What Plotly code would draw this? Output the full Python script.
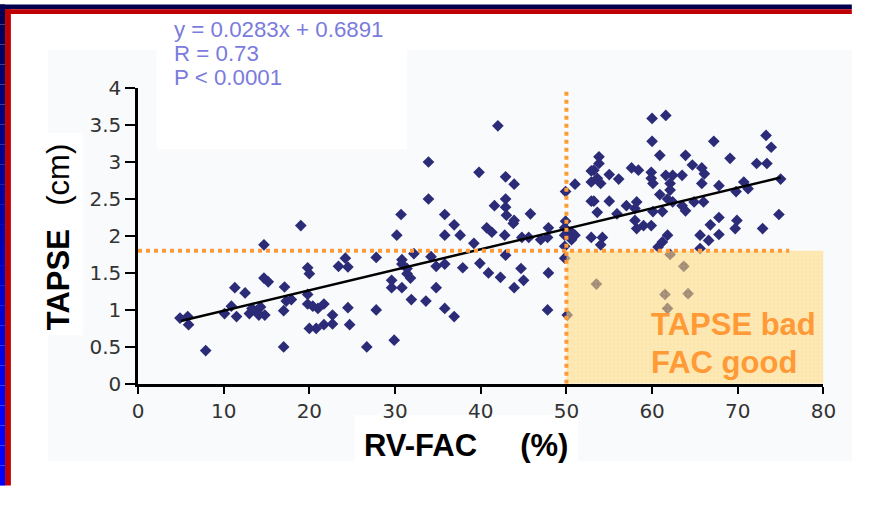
import plotly.graph_objects as go

# ---------------- data ----------------
fac = [
    19.0, 14.7, 4.9, 5.8, 5.9, 7.9, 10.1, 10.9, 11.5, 11.3, 12.5, 13.0, 13.3, 13.9, 14.3, 14.1, 14.8,
    14.7, 15.2, 17.0, 17.0, 17.1, 17.3, 17.9, 19.8, 20.0, 19.8, 19.8, 20.4, 21.0, 20.0, 20.8, 21.7,
    21.7, 22.7, 22.7, 23.4, 24.2, 24.5, 24.5, 24.7, 26.7,
    36.9, 40.7, 41.3, 43.8, 47.9, 30.2, 35.8, 37.6, 39.2, 42.8, 44.8, 45.6, 47.0, 47.8, 49.8, 49.8,
    51.0, 52.9, 49.8, 27.8, 32.2, 30.8, 30.8, 31.4, 34.2, 34.8, 35.8, 37.9, 39.9, 40.9, 42.9, 42.3,
    44.7, 45.0, 43.9, 47.9, 49.8, 29.6, 29.6, 30.8, 31.4, 31.8, 34.8, 31.9, 33.6, 27.8, 35.8, 36.9,
    47.8, 50.1, 29.9, 42.0, 33.9, 39.8, 42.9, 43.9, 33.9, 30.7, 35.8, 41.6, 42.9, 42.9, 43.0, 43.9,
    45.8, 49.9, 51.0, 49.9, 52.9, 52.9, 52.9, 50.6, 50.6,
    60.0, 61.6, 60.0, 60.9, 63.9, 64.7, 67.2, 69.1, 73.3, 73.9, 72.2, 73.4, 75.0, 74.8, 72.9, 69.9,
    69.7, 67.8, 66.8, 67.8, 65.6, 66.6, 53.8, 53.8, 53.2, 53.6, 54.0, 55.0, 56.1, 57.6, 58.4, 59.9,
    59.9, 60.1, 61.6, 62.4, 63.5, 62.1, 62.1, 65.8, 66.1, 65.8, 67.8, 69.8, 70.7, 71.2, 53.2, 55.0,
    55.9, 57.0, 58.2, 58.0, 58.0, 59.0, 59.9, 60.1, 61.2, 60.9, 61.8, 62.4, 63.5, 63.9, 64.9, 66.0,
    53.6, 54.2, 54.0, 61.2, 61.8, 60.7, 58.2, 65.6,
    62.1, 63.7, 53.5, 61.5, 64.2, 61.8,
]
tapse = [
    2.14, 1.88, 0.89, 0.91, 0.80, 0.45, 0.95, 1.05, 0.91, 1.30, 1.23, 0.95, 1.02, 0.99, 1.04, 0.93, 0.93,
    1.43, 1.38, 0.50, 0.99, 1.31, 1.12, 1.14, 1.57, 1.49, 1.21, 1.08, 1.05, 1.02, 0.75, 0.75, 0.80,
    1.08, 0.93, 0.81, 1.59, 1.70, 1.58, 1.03, 0.80, 0.50,
    2.15, 2.11, 2.05, 2.17, 2.11, 2.01, 2.01, 2.01, 1.90, 2.01, 1.98, 1.98, 1.95, 1.98, 2.11, 2.01,
    2.01, 1.98, 1.86, 1.71, 1.76, 1.68, 1.62, 1.56, 1.72, 1.59, 1.62, 1.57, 1.63, 1.50, 1.74, 1.44,
    1.56, 1.40, 1.30, 1.50, 1.70, 1.40, 1.30, 1.30, 1.49, 1.43, 1.30, 1.14, 1.12, 1.00, 1.02, 0.91,
    1.00, 0.93, 0.59, 3.49, 3.00, 2.86, 2.80, 2.70, 2.50, 2.29, 2.29, 2.41, 2.50, 2.39, 2.28, 2.21,
    2.30, 2.60, 2.70, 2.20, 2.88, 2.73, 2.47, 2.05, 1.95,
    3.59, 3.63, 3.28, 3.09, 3.09, 2.96, 3.28, 3.05, 3.36, 3.20, 2.98, 2.98, 2.77, 2.29, 2.10, 2.21,
    2.10, 2.25, 2.15, 2.02, 2.01, 1.94, 3.07, 2.98, 2.89, 2.78, 2.71, 2.83, 2.77, 2.92, 2.89, 2.86,
    2.78, 2.71, 2.82, 2.82, 2.82, 2.71, 2.62, 2.92, 2.84, 2.71, 2.68, 2.60, 2.73, 2.64, 2.47, 2.47,
    2.30, 2.41, 2.46, 2.37, 2.21, 2.14, 2.14, 2.33, 2.33, 2.56, 2.50, 2.46, 2.41, 2.34, 2.46, 2.46,
    2.32, 1.98, 1.88, 1.92, 2.01, 1.85, 2.10, 1.83,
    1.75, 1.59, 1.35, 1.21, 1.22, 1.02,
]

fit_x = [5, 75]
fit_y = [0.85, 2.79]

fac_cut = 50
tapse_cut = 1.8
hline_end = 76
x_max = 80

x_ticks = [0, 10, 20, 30, 40, 50, 60, 70, 80]
y_ticks = [0, 0.5, 1, 1.5, 2, 2.5, 3, 3.5, 4]
y_ticklabels = ["0", "0.5", "1", "1.5", "2", "2.5", "3", "3.5", "4"]

eq_lines = ["y = 0.0283x + 0.6891", "R = 0.73", "P < 0.0001"]
region_lines = ["TAPSE bad", "FAC good"]

# ---------------- layout helpers (page has an 8px body margin) ----------------
OX, OY = 8, 8
FW, FH = 873 - 16, 506 - 16
def px(x):
    return (x - OX) / FW
def py(y):
    return 1 - (y - OY) / FH

FONT = "Liberation Sans, Arial, sans-serif"
TICKFONT = "DejaVu Sans, Verdana, sans-serif"
ORANGE = "#ff9a36"

fig = go.Figure()

fig.add_trace(go.Scatter(
    x=fac, y=tapse, mode="markers",
    marker=dict(symbol="diamond", size=9, color="#2b2b78", line=dict(width=0)),
    cliponaxis=False, showlegend=False, hoverinfo="skip"))

fig.add_trace(go.Scatter(
    x=fit_x, y=fit_y, mode="lines",
    line=dict(color="black", width=2.5), showlegend=False, hoverinfo="skip"))

# shaded region (TAPSE bad / FAC good)
fig.add_trace(go.Scatter(
    x=[fac_cut, x_max, x_max, fac_cut, fac_cut],
    y=[0, 0, tapse_cut, tapse_cut, 0],
    mode="lines", line=dict(width=0), fill="toself",
    fillcolor="rgba(255,214,110,0.55)",
    fillpattern=dict(shape="+", size=4, solidity=0.25,
                     fgcolor="rgba(255,255,255,0.55)",
                     bgcolor="rgba(255,212,105,0.55)"),
    showlegend=False, hoverinfo="skip"))

shapes = []
def rect(x0, y0, x1, y1, color, layer="below"):
    shapes.append(dict(type="rect", xref="paper", yref="paper",
                       x0=px(x0), x1=px(x1), y0=py(y1), y1=py(y0),
                       fillcolor=color, line=dict(width=0), layer=layer))

# frame
rect(0, 0, 873, 5, "#00004e")
rect(7, 5, 873, 10, "#c00000")
n = 24
for i in range(n):
    t = min(1.0, (i + 0.5) / n / 0.85)
    b = int(80 + (255 - 80) * t)
    rect(0, 506 * i / n, 7, 506 * (i + 1) / n, f"rgb(0,0,{b})")
rect(7, 5, 13, 506, "#c00000")
# pale picture background and white boxes
rect(51, 48, 873, 480, "#f9fafc")
rect(162, 48, 418, 152, "white")
rect(51, 135, 87, 348, "white")
rect(365, 432, 593, 480, "white")
# dotted cut lines
shapes.append(dict(type="line", xref="x", yref="y", x0=0, x1=hline_end, y0=tapse_cut, y1=tapse_cut,
                   line=dict(color=ORANGE, width=4, dash="dot"), layer="above"))
shapes.append(dict(type="line", xref="x", yref="y", x0=fac_cut, x1=fac_cut, y0=0, y1=4,
                   line=dict(color=ORANGE, width=4, dash="dot"), layer="above"))

annotations = []
for i, txt in enumerate(eq_lines):
    annotations.append(dict(xref="paper", yref="paper", x=px(179), y=py(26.5 + 25 * i),
                            xanchor="left", yanchor="middle", showarrow=False, text=txt,
                            borderpad=0,
                            font=dict(family=FONT, size=22.3, color="#7b7bdc")))
for i, txt in enumerate(region_lines):
    annotations.append(dict(xref="paper", yref="paper", x=px(667), y=py(337 + 40 * i),
                            xanchor="left", yanchor="middle", showarrow=False, text=f"<b>{txt}</b>",
                            borderpad=0,
                            font=dict(family=FONT, size=31, color=ORANGE)))
annotations.append(dict(xref="paper", yref="paper", x=px(62), y=py(245), textangle=-90,
                        xanchor="center", yanchor="middle", showarrow=False,
                        text="<b>TAPSE</b>\u00a0\u00a0\u2009(cm)",
                        font=dict(family=FONT, size=31, color="black")))
annotations.append(dict(xref="paper", yref="paper", x=px(478), y=py(464),
                        xanchor="center", yanchor="middle", showarrow=False,
                        text="<b>RV-FAC\u00a0\u00a0\u00a0\u00a0\u00a0(%)</b>",
                        font=dict(family=FONT, size=31, color="black")))

fig.update_layout(
    width=FW, height=FH,
    margin=dict(l=0, r=0, t=0, b=0),
    paper_bgcolor="white", plot_bgcolor="rgba(0,0,0,0)",
    shapes=shapes, annotations=annotations, showlegend=False,
    xaxis=dict(domain=[px(143), px(844)], range=[0, x_max], tickvals=x_ticks,
               ticks="outside", ticklen=7, tickwidth=2, tickcolor="black",
               showline=True, linecolor="black", linewidth=2.5,
               showgrid=False, zeroline=False, fixedrange=True,
               tickfont=dict(family=TICKFONT, size=20, color="#333333")),
    yaxis=dict(domain=[py(399), py(88)], range=[0, 4], tickvals=y_ticks, ticktext=y_ticklabels,
               ticks="outside", ticklen=10, tickwidth=2, tickcolor="black",
               showline=True, linecolor="black", linewidth=2.5,
               showgrid=False, zeroline=False, fixedrange=True,
               tickfont=dict(family=TICKFONT, size=20, color="#333333")),
)

fig.write_html("out.html", config={"displayModeBar": False})
